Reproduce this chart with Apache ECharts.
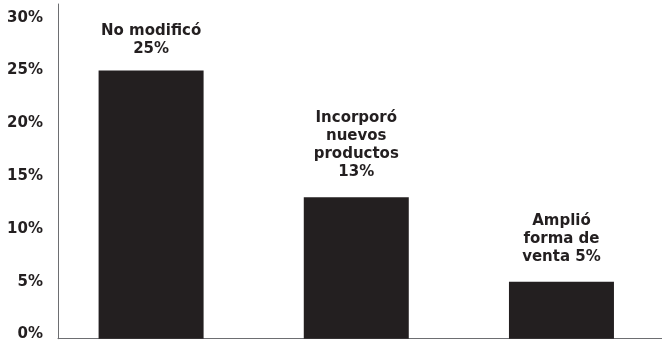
<!DOCTYPE html>
<html>
<head>
<meta charset="utf-8">
<script src="https://cdn.jsdelivr.net/npm/echarts@6/dist/echarts.min.js"></script>
<style>
  html, body { margin: 0; padding: 0; background: #ffffff; }
  #chart { width: 662px; height: 342px; }
</style>
</head>
<body>
<div id="chart"></div>
<script>
// Categories (one bar each), their shares in percent and the label text lines
const categories = ['No modificó', 'Incorporó nuevos productos', 'Amplió forma de venta'];
const values = [25, 13, 5];
const labelLines = [
  ['No modificó'],
  ['Incorporó', 'nuevos', 'productos'],
  ['Amplió', 'forma de', 'venta']
];
// Where the percentage sits: on its own line or appended to the last line
const percentOnOwnLine = [true, true, false];
const yTicks = [0, 5, 10, 15, 20, 25, 30];

const ink = '#231f20';
const axisGray = '#6d6e71';
const font = '"DejaVu Sans", sans-serif';
// Gap between each bar top and its label block
const labelGap = [12, 16, 16];

const chart = echarts.init(document.getElementById('chart'), null, { renderer: 'canvas' });

function labelText(i) {
  const lines = labelLines[i].slice();
  const pct = values[i] + '%';
  if (percentOnOwnLine[i]) {
    lines.push(pct);
  } else {
    lines[lines.length - 1] += ' ' + pct;
  }
  return lines.join('\n');
}

chart.setOption({
  animation: false,
  backgroundColor: '#ffffff',
  grid: { left: 58, right: 0, top: 4, bottom: 3, containLabel: false },
  xAxis: {
    type: 'value',
    min: -0.4537,
    max: 2.49,
    axisLine: { show: true, onZero: false, lineStyle: { color: axisGray, width: 1 } },
    axisTick: { show: false },
    axisLabel: { show: false },
    splitLine: { show: false }
  },
  yAxis: {
    type: 'value',
    min: -0.4,
    max: 31.3,
    startValue: -0.4,
    axisLine: { show: true, onZero: false, lineStyle: { color: axisGray, width: 1 } },
    axisTick: { show: false },
    splitLine: { show: false },
    axisLabel: {
      customValues: yTicks,
      formatter: v => v + '%',
      color: ink,
      fontFamily: font,
      fontWeight: 'bold',
      fontSize: 15,
      margin: 15,
      verticalAlign: 'middle',
      padding: [0, 0, 10, 0]
    }
  },
  series: [{
    type: 'bar',
    barWidth: 105,
    data: values.map((v, i) => ({
      name: categories[i],
      value: [i, v],
      label: { distance: labelGap[i] }
    })),
    itemStyle: { color: ink },
    label: {
      show: true,
      position: 'top',
      formatter: p => labelText(p.dataIndex),
      color: ink,
      fontFamily: font,
      fontWeight: 'bold',
      fontSize: 15,
      lineHeight: 18,
      align: 'center'
    }
  }]
});
</script>
</body>
</html>
